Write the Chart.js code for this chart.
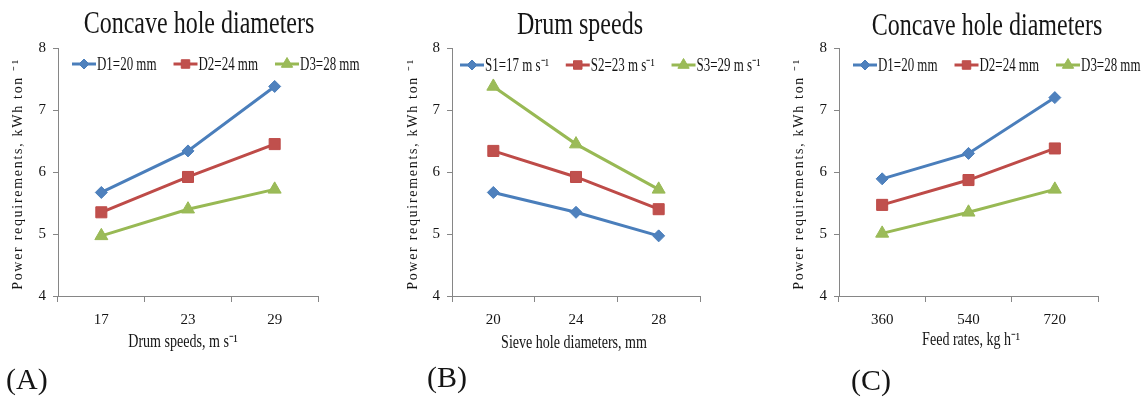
<!DOCTYPE html>
<html>
<head>
<meta charset="utf-8">
<title>Power requirements</title>
<script src="https://cdn.jsdelivr.net/npm/chart.js@4/dist/chart.umd.min.js"></script>
<style>
  body { margin: 0; background: #fff; }
  #wrap { position: relative; width: 1147px; height: 401px; overflow: hidden; }
  canvas { position: absolute; top: 0; }
</style>
</head>
<body>
<div id="wrap">
  <canvas id="chartA" width="380" height="401" style="left:0"></canvas>
  <canvas id="chartB" width="390" height="401" style="left:380px"></canvas>
  <canvas id="chartC" width="377" height="401" style="left:770px"></canvas>
</div>
<script>
// categories
const drumSpeeds = ['17', '23', '29'];
const sieveHoles = ['20', '24', '28'];
const feedRates = ['360', '540', '720'];

// series names
const holeNames = ['D1=20 mm', 'D2=24 mm', 'D3=28 mm'];
const speedNames = ['S1=17 m s\u207B\u00B9', 'S2=23 m s\u207B\u00B9', 'S3=29 m s\u207B\u00B9'];

// power requirements, kWh ton-1 : (A) vs drum speed
const aD1 = [5.67, 6.34, 7.38];
const aD2 = [5.35, 5.92, 6.45];
const aD3 = [4.97, 5.40, 5.72];

// (B) vs sieve hole diameter
const bS1 = [5.67, 5.35, 4.97];
const bS2 = [6.34, 5.92, 5.40];
const bS3 = [7.38, 6.45, 5.72];

// (C) vs feed rate
const cD1 = [5.89, 6.30, 7.20];
const cD2 = [5.47, 5.87, 6.38];
const cD3 = [5.01, 5.35, 5.72];

const yTicks = { min: 4, max: 8, step: 1 };
const yTitle = 'Power requirements, kWh ton \u207B\u00B9';

const textColor = '#151515';
const axisColor = '#868686';
const serif = '"Liberation Serif", "Times New Roman", serif';

const seriesStyles = [
  { line: '#4a7ebb', fill: '#4f81bd', pointStyle: 'rectRot', radius: 6, legendRadius: 5 },
  { line: '#be4b48', fill: '#c0504d', pointStyle: 'rect', radius: 7.8, legendRadius: 6 },
  { line: '#98b954', fill: '#9bbb59', pointStyle: 'triangle', radius: 7.5, legendRadius: 6.5 }
];

// draws text squeezed horizontally, returns drawn width
function condensed(ctx, text, x, y, font, sx, align) {
  ctx.save();
  ctx.font = font;
  ctx.textAlign = align;
  ctx.textBaseline = 'alphabetic';
  ctx.translate(x, y);
  ctx.scale(sx, 1);
  ctx.fillText(text, 0, 0);
  const w = ctx.measureText(text).width * sx;
  ctx.restore();
  return w;
}

// title, axis titles, panel letter and the line+marker legend
const panelText = {
  id: 'panelText',
  afterDraw(chart, args, opts) {
    const ctx = chart.ctx;
    const area = chart.chartArea;
    ctx.save();
    ctx.fillStyle = textColor;
    condensed(ctx, opts.title, opts.titleX, opts.titleY, '32px ' + serif, 0.75, 'center');
    condensed(ctx, opts.xTitle, opts.xTitleX, opts.xTitleY, '18px ' + serif, 0.78, 'center');
    ctx.font = '30px ' + serif;
    ctx.textAlign = 'left';
    ctx.fillText(opts.panel, opts.panelX, opts.panelY);

    // spaced-out vertical title
    ctx.save();
    ctx.translate(opts.yTitleX, (area.top + area.bottom) / 2 + 2);
    ctx.rotate(-Math.PI / 2);
    ctx.font = '14px ' + serif;
    ctx.letterSpacing = '1.7px';
    ctx.textAlign = 'center';
    ctx.textBaseline = 'middle';
    ctx.fillText(yTitle, 0, 0);
    ctx.restore();

    let x = opts.legendX;
    const y = opts.legendY;
    chart.data.datasets.forEach((ds, i) => {
      const st = seriesStyles[i];
      ctx.strokeStyle = st.line;
      ctx.lineWidth = 3;
      ctx.beginPath();
      ctx.moveTo(x, y);
      ctx.lineTo(x + 24, y);
      ctx.stroke();
      ctx.fillStyle = st.fill;
      ctx.lineWidth = 1;
      Chart.helpers.drawPoint(ctx, { pointStyle: st.pointStyle, radius: st.legendRadius, rotation: 0, borderWidth: 1 }, x + 12, y);
      ctx.fillStyle = textColor;
      const w = condensed(ctx, ds.label, x + 25, y + 6, '18px ' + serif, 0.72, 'left');
      x += 25 + w + 17;
    });
    ctx.restore();
  }
};

function makeChart(id, labels, names, series, text) {
  return new Chart(document.getElementById(id), {
    type: 'line',
    data: {
      labels: labels,
      datasets: series.map((values, i) => ({
        label: names[i],
        data: values,
        borderColor: seriesStyles[i].line,
        backgroundColor: seriesStyles[i].fill,
        pointBorderColor: seriesStyles[i].line,
        pointStyle: seriesStyles[i].pointStyle,
        pointRadius: seriesStyles[i].radius,
        pointBorderWidth: 1,
        borderWidth: 3,
        tension: 0
      }))
    },
    options: {
      responsive: false,
      animation: false,
      events: [],
      layout: { padding: { left: 0, right: text.padRight, top: 48, bottom: 65 } },
      plugins: {
        legend: { display: false },
        title: { display: false },
        tooltip: { enabled: false },
        panelText: text
      },
      scales: {
        x: {
          type: 'category',
          offset: true,
          grid: { offset: true, drawOnChartArea: false, tickLength: 6, color: axisColor },
          border: { color: axisColor },
          ticks: { font: { family: serif, size: 15 }, color: textColor, padding: 9 },
          afterFit: s => { s.height = 40; }
        },
        y: {
          min: yTicks.min,
          max: yTicks.max,
          ticks: { stepSize: yTicks.step, font: { family: serif, size: 15 }, color: textColor, padding: 7 },
          grid: { drawOnChartArea: false, tickLength: 5, color: axisColor },
          border: { color: axisColor },
          afterFit: s => { s.width = text.yWidth; }
        }
      }
    },
    plugins: [panelText]
  });
}

makeChart('chartA', drumSpeeds, holeNames, [aD1, aD2, aD3], {
  title: 'Concave hole diameters', titleX: 199, titleY: 33,
  xTitle: 'Drum speeds, m s\u207B\u00B9', xTitleX: 183, xTitleY: 347,
  panel: '(A)', panelX: 6, panelY: 389,
  legendX: 72, legendY: 64,
  yTitleX: 18, yWidth: 58, padRight: 62
});

makeChart('chartB', sieveHoles, speedNames, [bS1, bS2, bS3], {
  title: 'Drum speeds', titleX: 200, titleY: 34,
  xTitle: 'Sieve hole diameters, mm', xTitleX: 194, xTitleY: 348,
  panel: '(B)', panelX: 47, panelY: 387,
  legendX: 80, legendY: 65,
  yTitleX: 33, yWidth: 72, padRight: 70
});

makeChart('chartC', feedRates, holeNames, [cD1, cD2, cD3], {
  title: 'Concave hole diameters', titleX: 217, titleY: 35,
  xTitle: 'Feed rates, kg h\u207B\u00B9', xTitleX: 201, xTitleY: 345,
  panel: '(C)', panelX: 81, panelY: 390,
  legendX: 83, legendY: 65,
  yTitleX: 29, yWidth: 69, padRight: 49
});
</script>
</body>
</html>
